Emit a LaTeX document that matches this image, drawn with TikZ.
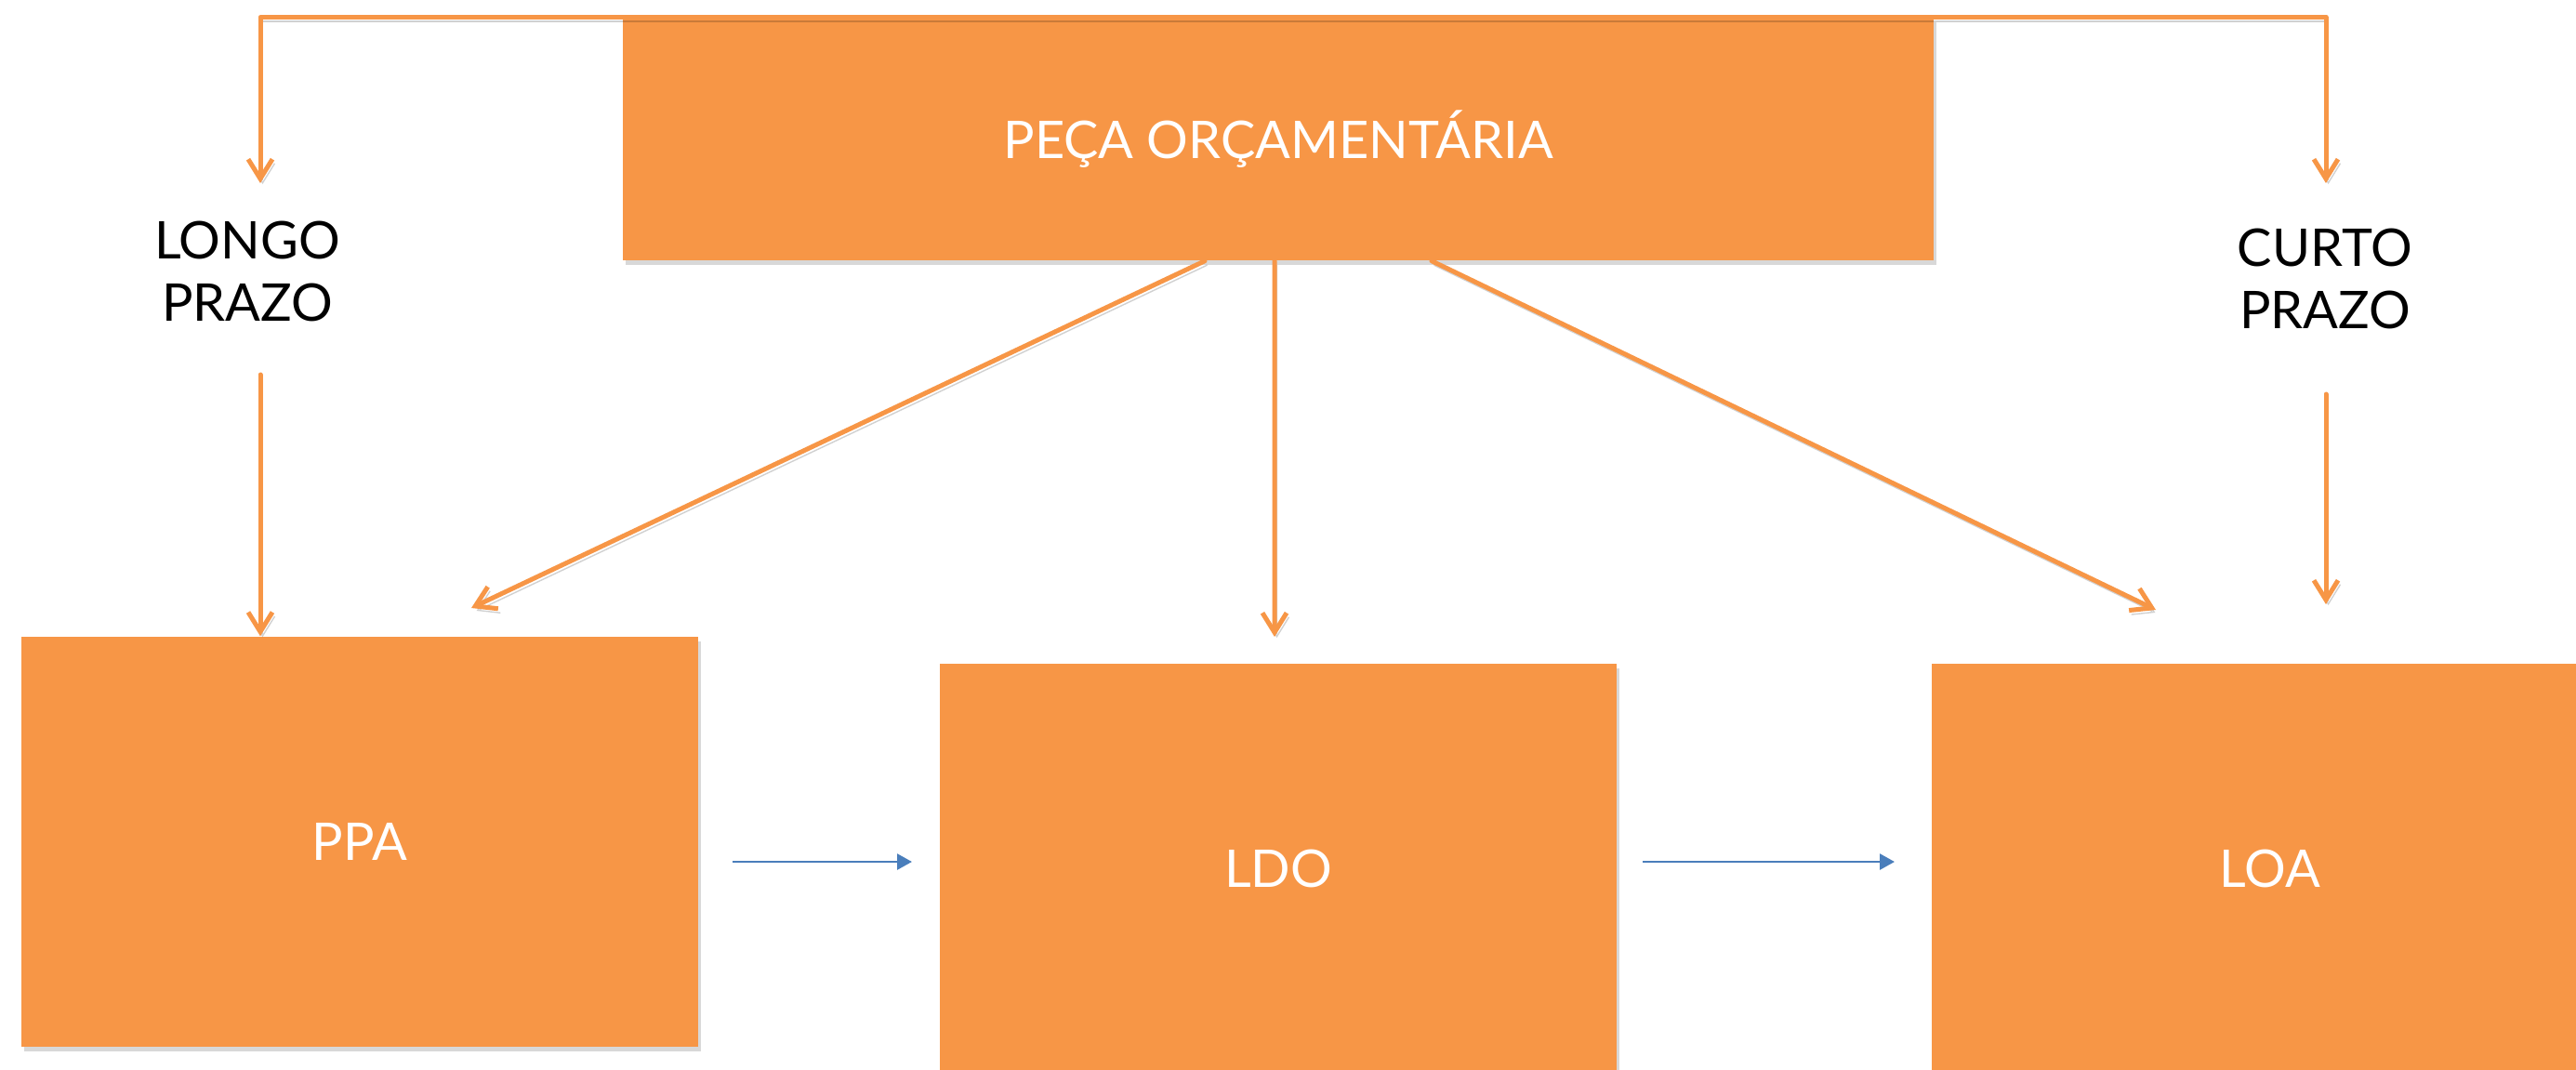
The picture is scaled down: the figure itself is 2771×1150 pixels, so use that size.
\documentclass[tikz,border=0pt]{standalone}
\usepackage{fontspec}
\setmainfont{Lato}
\usetikzlibrary{arrows.meta,shadows}
\definecolor{orng}{HTML}{F79646}
\definecolor{blu}{HTML}{4A7EBB}
\tikzset{
  box/.style={rectangle, fill=orng, draw=none, inner sep=0pt, text=white,
    font=\fontsize{15.9pt}{19pt}\selectfont,
    drop shadow={shadow xshift=0.25mm, shadow yshift=-0.5mm, opacity=0.3}},
  lbl/.style={inner sep=0pt, align=center, text=black,
    font=\fontsize{15.9pt}{19.1pt}\selectfont},
  oarrow/.style={draw=orng, line width=0.5mm, line cap=round, line join=round,
    -{Straight Barb[length=2.1mm,width=2.6mm,line width=0.5mm]},
    preaction={draw=black, opacity=0.18, transform canvas={shift={(0.25mm,-0.45mm)}}}},
  barrow/.style={draw=blu, line width=0.27mm, -{Triangle[length=1.6mm,width=1.7mm]}}
}
\begin{document}
\begin{tikzpicture}[x=0.1mm,y=-0.1mm]
\useasboundingbox (0,0) rectangle (2771,1150);
\fill[white] (0,0) rectangle (2771,1150);

% boxes
\node[box, minimum width=141mm, minimum height=26.1mm] (pec) at (1375,149.5) {PEÇA ORÇAMENTÁRIA};
\node[box, minimum width=72.8mm, minimum height=44.1mm] (ppa) at (387,905.5) {PPA};
\node[box, minimum width=72.8mm, minimum height=44.1mm] (ldo) at (1375,934.5) {LDO};
\node[box, minimum width=72.8mm, minimum height=44.1mm] (loa) at (2442,934.5) {LOA};

% labels
\node[lbl] (longo) at (266,292) {LONGO\\PRAZO};
\node[lbl] (curto) at (2501,300) {CURTO\\PRAZO};

% free ends
\coordinate (lt) at (280,197);
\coordinate (rt) at (2502,197);
\coordinate (lb) at (280,403);
\coordinate (rb) at (2502,424);
\coordinate (re) at (2502,650);
\coordinate (d1) at (507,654);
\coordinate (d2) at (1371,685);
\coordinate (d3) at (2319,656);
\coordinate (b1s) at (788,927);
\coordinate (b1e) at (981,927);
\coordinate (b2s) at (1767,927);
\coordinate (b2e) at (2038,927);

% top connectors
\draw[oarrow] (pec.north) -| (lt);
\draw[oarrow] (pec.north) -| (rt);

% label to box
\draw[oarrow] (lb) -- (lb |- ppa.north);
\draw[oarrow] (rb) -- (re);

% from top box
\draw[oarrow] ([xshift=-7.9mm]pec.south) -- (d1);
\draw[oarrow] ([xshift=-0.4mm]pec.south) -- (d2);
\draw[oarrow] ([xshift=16.5mm]pec.south) -- (d3);

% blue arrows
\draw[barrow] (b1s) -- (b1e);
\draw[barrow] (b2s) -- (b2e);
\end{tikzpicture}
\end{document}
